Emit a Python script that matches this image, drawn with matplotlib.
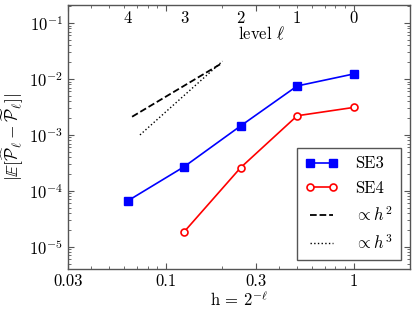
import matplotlib
matplotlib.use("Agg")
import matplotlib.pyplot as plt
import matplotlib.transforms as mtransforms
import numpy as np

plt.rcParams['font.family'] = 'serif'
plt.rcParams['font.serif'] = ['cmr10']
plt.rcParams['mathtext.fontset'] = 'cm'
plt.rcParams['axes.formatter.use_mathtext'] = True
plt.rcParams['font.size'] = 11

h = [1.0, 0.5, 0.25, 0.125, 0.0625]
se3 = [0.0123, 0.0075, 0.00145, 2.7e-4, 6.6e-5]
h4 = [1.0, 0.5, 0.25, 0.125]
se4 = [0.0031, 0.0022, 2.6e-4, 1.85e-5]

h2_x = [0.066, 0.2]
h2_c = 0.485
h3_x = [0.0727, 0.2]
h3_c = 2.6

levels = [4, 3, 2, 1, 0]

fig = plt.figure(figsize=(4.16, 3.15), dpi=100)
ax = fig.add_axes([0.163, 0.146, 0.823, 0.838])

ax.plot(h, se3, '-s', color='#0000ff', lw=1.2, ms=5.5, label='SE3')
ax.plot(h4, se4, '-o', color='#ff0000', lw=1.2, ms=5, mfc='white', mew=1.2, label='SE4')
ax.plot(h2_x, [h2_c * x**2 for x in h2_x], '--', color='black', lw=1.3, label=r'$\propto h^2$')
ax.plot(h3_x, [h3_c * x**3 for x in h3_x], ':', color='black', lw=1.0, label=r'$\propto h^3$')

ax.set_xscale('log')
ax.set_yscale('log')
ax.set_xlim(0.03, 2.0)
ax.set_ylim(4e-6, 0.21)

ax.set_xticks([0.03, 0.1, 0.3, 1])
ax.set_xticklabels(['0.03', '0.1', '0.3', '1'])
ax.set_yticks([1e-5, 1e-4, 1e-3, 1e-2, 1e-1])

ax.tick_params(which='both', direction='in', top=True, right=True, color='#555555')
ax.tick_params(which='major', length=4, labelsize=12)
ax.tick_params(which='minor', length=2)
for s in ax.spines.values():
    s.set_color('#555555')
    s.set_linewidth(1.0)

ax.set_xlabel(r'h = $2^{-\ell}$', fontsize=12, labelpad=0)
ax.set_ylabel(r'$|\mathbb{E}[\widehat{\mathcal{P}}_\ell - \widetilde{\mathcal{P}}_\ell]|$', fontsize=12.5, labelpad=2)

trans = mtransforms.blended_transform_factory(ax.transData, ax.transAxes)
for l in levels:
    ax.text(2.0**(-l), 0.948, str(l), transform=trans, ha='center', va='center', fontsize=12)
ax.text(0.243, 0.893, r'level $\ell$', transform=trans, ha='left', va='center', fontsize=12)

leg = ax.legend(loc='lower right', numpoints=2, fancybox=False, framealpha=1,
                edgecolor='#555555', fontsize=12, handlelength=2.0, borderpad=0.5,
                labelspacing=0.55, handletextpad=1.0, borderaxespad=0,
                bbox_to_anchor=(0.974, 0.034))
leg.get_frame().set_linewidth(1.0)

fig.savefig('out.png', dpi=100)
